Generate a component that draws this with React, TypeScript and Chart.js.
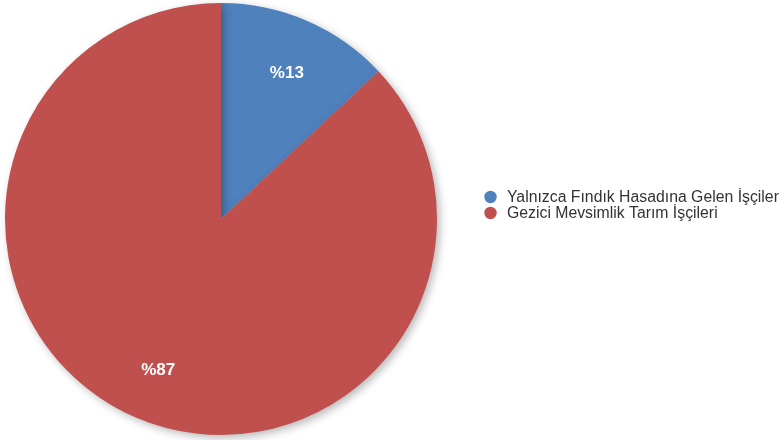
import React, { useEffect, useRef } from "react";
import { Chart, registerables } from "chart.js";

Chart.register(...registerables);

const categories = ["Yalnızca Fındık Hasadına Gelen İşçiler", "Gezici Mevsimlik Tarım İşçileri"];
const values = [13, 87];
const valueLabels = ["%13", "%87"];
const colors = ["#4F81BD", "#C0504D"];

const FONT = "'Liberation Sans', Arial, Helvetica, sans-serif";

const shadowPlugin = {
  id: "pieShadow",
  beforeDatasetDraw(chart: any) {
    const ctx = chart.ctx;
    ctx.save();
    ctx.shadowColor = "rgba(0,0,0,0.28)";
    ctx.shadowBlur = 9;
    ctx.shadowOffsetX = 3;
    ctx.shadowOffsetY = 3;
  },
  afterDatasetDraw(chart: any) {
    chart.ctx.restore();
  },
};

const labelPlugin = {
  id: "sliceLabels",
  afterDatasetsDraw(chart: any) {
    const ctx = chart.ctx;
    const meta = chart.getDatasetMeta(0);
    ctx.save();
    ctx.fillStyle = "#ffffff";
    ctx.font = `bold 17px ${FONT}`;
    ctx.textAlign = "center";
    ctx.textBaseline = "middle";
    meta.data.forEach((arc: any, i: number) => {
      const p = arc.getProps(["x", "y", "startAngle", "endAngle", "outerRadius"], true);
      const mid = (p.startAngle + p.endAngle) / 2;
      const r = p.outerRadius * 0.75;
      ctx.fillText(valueLabels[i], p.x + Math.cos(mid) * r + 1.5, p.y + Math.sin(mid) * r + 2.5);
    });
    ctx.restore();
  },
};

const legendPlugin = {
  id: "customLegend",
  afterDraw(chart: any) {
    const ctx = chart.ctx;
    ctx.save();
    ctx.font = `15.8px ${FONT}`;
    ctx.textBaseline = "middle";
    ctx.textAlign = "left";
    categories.forEach((c, i) => {
      const y = 197 + i * 16;
      ctx.beginPath();
      ctx.fillStyle = colors[i];
      ctx.arc(490.5, y, 6.2, 0, Math.PI * 2);
      ctx.fill();
      ctx.fillStyle = "#333333";
      ctx.fillText(c, 507, y + 0.5);
    });
    ctx.restore();
  },
};

export default function App() {
  const ref = useRef<HTMLCanvasElement | null>(null);
  useEffect(() => {
    document.body.style.margin = "0";
    const chart = new Chart(ref.current as HTMLCanvasElement, {
      type: "pie",
      data: {
        labels: categories,
        datasets: [
          {
            data: values,
            backgroundColor: colors,
            borderWidth: 0,
          },
        ],
      },
      options: {
        animation: false,
        responsive: false,
        layout: { padding: { left: 5, top: 3, bottom: 5, right: 347 } },
        plugins: {
          legend: { display: false },
          tooltip: { enabled: false },
        },
      },
      plugins: [shadowPlugin, labelPlugin, legendPlugin],
    });
    return () => chart.destroy();
  }, []);
  return (
    <div style={{ width: 784, height: 440 }}>
      <canvas ref={ref} width={784} height={440} style={{ width: 784, height: 440, display: "block" }} />
    </div>
  );
}
